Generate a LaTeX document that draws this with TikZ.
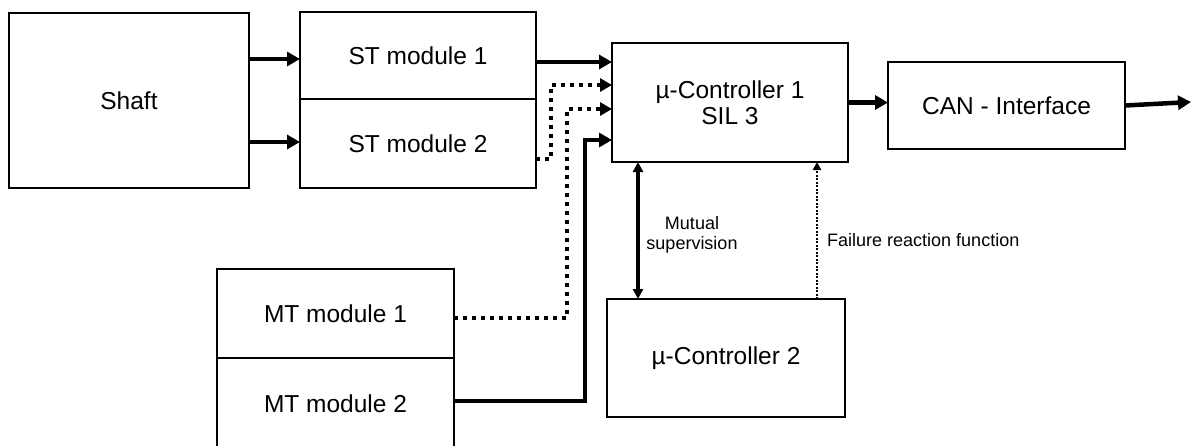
\documentclass[tikz,border=0pt]{standalone}
\usepackage{fontspec}
\setmainfont{Liberation Sans}
\usetikzlibrary{arrows.meta,calc}
\begin{document}
\begin{tikzpicture}[x=1pt,y=-1pt,
  boxst/.style={draw, line width=2.5pt, inner sep=0pt, outer sep=0pt, align=center,
    font=\fontsize{24.5}{26}\selectfont},
  solidarr/.style={line width=4.5pt, -{Triangle[length=13pt,width=14pt]}},
  dotarr/.style={line width=4pt, dash pattern=on 4pt off 5pt, -{Triangle[length=12pt,width=13pt]}},
  mutarr/.style={line width=3.3pt, {Triangle[length=10pt,width=10pt]}-{Triangle[length=10pt,width=10pt]}},
  failarr/.style={line width=2pt, dash pattern=on 2pt off 1.5pt, -{Triangle[length=8pt,width=8pt]}},
  lbl/.style={inner sep=0pt, font=\fontsize{18}{20}\selectfont, align=center}
]
\useasboundingbox (0,0) rectangle (1194,445);
\fill[white] (0,0) rectangle (1194,445);

\node[boxst, minimum width=240pt, minimum height=175pt] (shaft) at (129,100.5) {Shaft};
\node[boxst, minimum width=236pt, minimum height=87pt] (st1) at (418,55.5) {ST module 1};
\node[boxst, minimum width=236pt, minimum height=89pt] (st2) at (418,143.5) {ST module 2};
\node[boxst, minimum width=237pt, minimum height=89pt] (mt1) at (335.5,313.5) {MT module 1};
\node[boxst, minimum width=237pt, minimum height=92pt] (mt2) at (335.5,404) {MT module 2};
\node[boxst, minimum width=236pt, minimum height=119pt] (uc1) at (730,102.5) {µ-Controller 1\\SIL 3};
\node[boxst, minimum width=238pt, minimum height=118pt] (uc2) at (726,358) {µ-Controller 2};
\node[boxst, minimum width=237pt, minimum height=87pt] (can) at (1006.5,105.5) {CAN - Interface};
\coordinate (out) at (1191,102);

% shaft -> ST modules
\draw[solidarr] ($(shaft.east)+(0,-41.5)$) -- ($(st1.west)+(0,3.5)$);
\draw[solidarr] ($(shaft.east)+(0,41.5)$) -- ($(st2.west)+(0,-1.5)$);

% into controller 1
\draw[solidarr] ($(st1.east)+(0,6.5)$) -- ($(uc1.west)+(0,-40.5)$);
\draw[dotarr] ($(st2.east)+(0,15.5)$) -- ++(15,0) |- ($(uc1.west)+(0,-17.5)$);
\draw[dotarr] ($(mt1.east)+(0,4.5)$) -- ++(113,0) |- ($(uc1.west)+(0,6.5)$);
\draw[solidarr] ($(mt2.east)+(0,-3)$) -- ++(131,0) |- ($(uc1.west)+(0,37.5)$);

% controller 1 -> CAN -> out
\draw[solidarr] (uc1.east) -- (can.west |- uc1.east);
\draw[solidarr] (can.east) -- (out);

% between controllers
\draw[mutarr] ($(uc1.south west)+(26,0)$) -- ($(uc2.north west)+(31,0)$);
\draw[failarr] ($(uc2.north west)+(210,0)$) -- ($(uc1.south west)+(205,0)$);

\node[lbl] (mut) at (692,235) {Mutual\\supervision};
\node[lbl, anchor=west] (fail) at (827,240) {Failure reaction function};
\end{tikzpicture}
\end{document}
